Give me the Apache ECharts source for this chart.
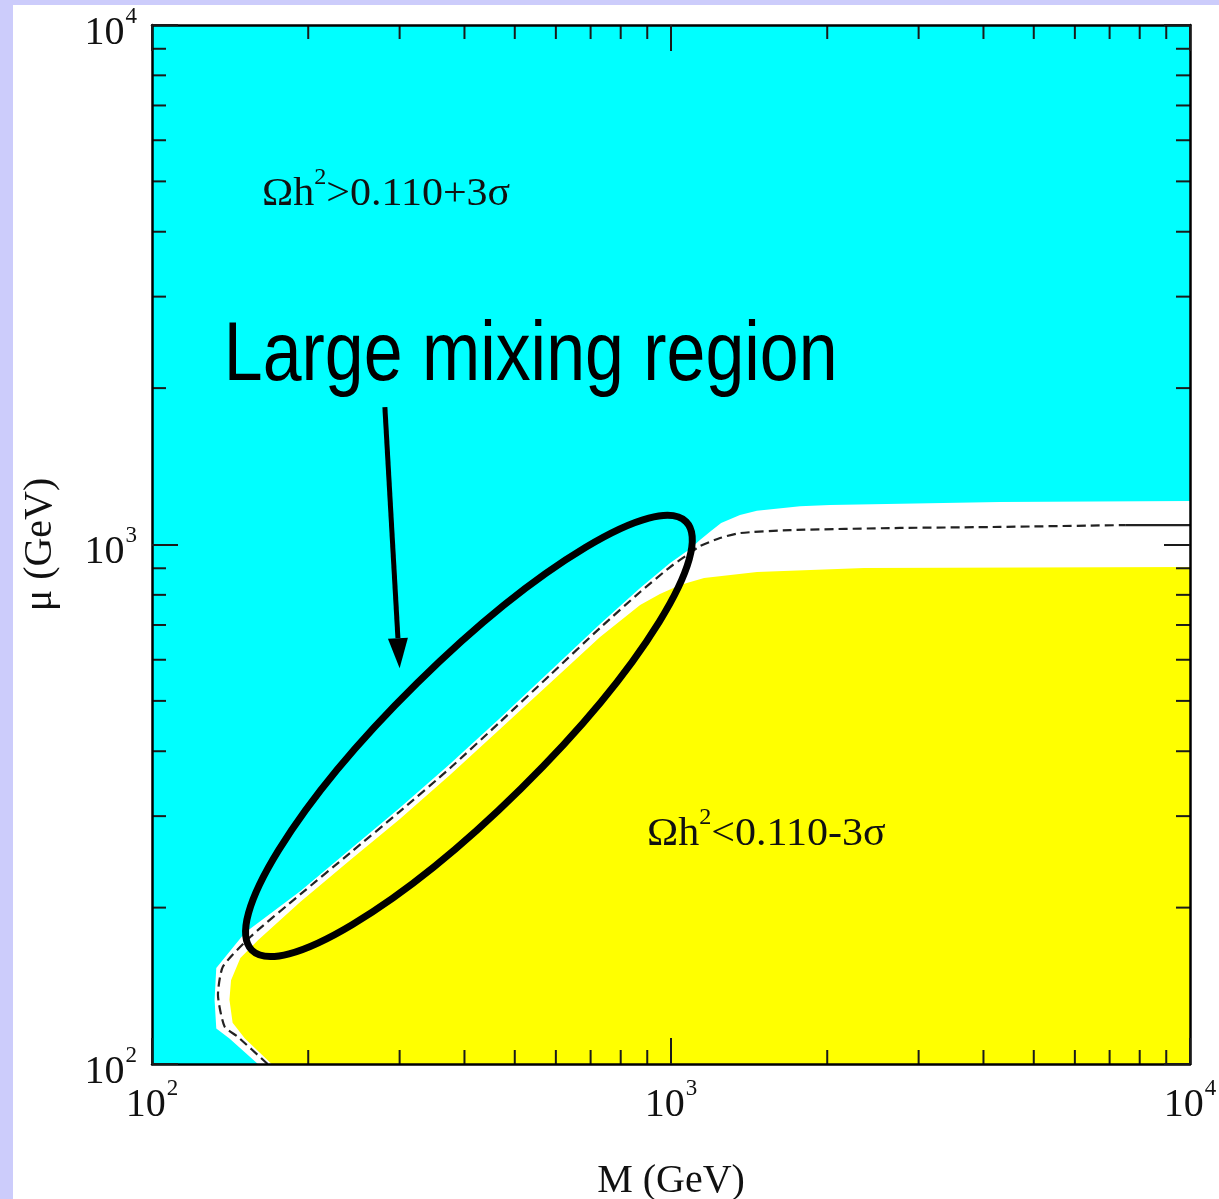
<!DOCTYPE html>
<html>
<head>
<meta charset="utf-8">
<script src="https://cdn.jsdelivr.net/npm/echarts@6/dist/echarts.min.js"></script>
<style>
html,body{margin:0;padding:0;background:#fff;}
#chart{width:1219px;height:1199px;}
</style>
</head>
<body>
<div id="chart"></div>
<script>
// ---- axis ranges & ticks ----
const M_RANGE = [100, 10000];
const MU_RANGE = [100, 10000];
const majorTickValues = [100, 1000, 10000];
const majorTickExponents = ['2', '3', '4'];
const minorTickValues = [200, 300, 400, 500, 600, 700, 800, 900, 2000, 3000, 4000, 5000, 6000, 7000, 8000, 9000];

// ---- region boundaries, [M (GeV), mu (GeV)] ----
// upper edge of the white band (below it the cyan region ends)
const cyanEdge = [[160,100],[141,112],[133,117],[132,133],[133,153],[151,179],[193,215],[241,259],[300,311],[375,378],[468,463],[585,571],[730,703],[872,825],[996,921],[1088,980],[1137,1020],[1189,1058],[1249,1100],[1358,1140],[1464,1162],[1773,1185],[2025,1191],[4304,1207],[10000,1213]];
// upper/left edge of the yellow region
const yellowEdge = [[170,100],[151,112],[143,120],[141,133],[142,145],[148,160],[160,173],[193,205],[241,247],[300,296],[375,360],[468,441],[585,541],[730,664],[872,765],[952,803],[1041,836],[1158,862],[1464,885],[2355,901],[10000,905]];
// central dashed curve
const dashedLine = [[167,100],[146,113],[138,118],[134,136],[137,154],[155,176],[193,212],[241,255],[300,306],[375,371],[468,455],[585,561],[730,691],[872,810],[996,905],[1088,963],[1137,993],[1243,1029],[1358,1052],[1696,1066],[2762,1076],[4304,1081],[7500,1090]];
const solidLine = [[7500,1090],[10000,1090]];

// ---- annotations, anchored in data coordinates ----
const ellipseCenter = [408, 428];
const arrowTail = [281, 1839];
const arrowTip = [300, 578];
const bigLabel = {text: 'Large mixing region', at: [137.5, 2290]};
const upperLabel = {pre: 'Ωh', sup: '2', post: '>0.110+3σ', at: [162.9, 4805]};
const lowerLabel = {pre: 'Ωh', sup: '2', post: '<0.110-3σ', at: [899, 282]};

const SERIF = '"Liberation Serif","Times New Roman",serif';
const TICK_COLOR = '#1a1a1a';

const chart = echarts.init(document.getElementById('chart'), null, {renderer: 'canvas'});

function labelFormatter(v) {
  const i = majorTickValues.findIndex(t => Math.abs(t - v) / t < 1e-6);
  if (i < 0) return '';
  return '{b|10}{s|' + majorTickExponents[i] + '}';
}
const labelRich = {
  b: {fontSize: 40, fontFamily: SERIF, color: '#111', padding: [8, 0, 0, 0]},
  s: {fontSize: 23, fontFamily: SERIF, color: '#111', verticalAlign: 'top', padding: [0, 0, 0, 1]}
};

function makeAxis(kind, pos, withLabels) {
  const ax = {
    type: 'log', logBase: 10,
    min: kind === 'x' ? M_RANGE[0] : MU_RANGE[0],
    max: kind === 'x' ? M_RANGE[1] : MU_RANGE[1],
    position: pos, z: 10,
    axisLine: {show: true, onZero: false, lineStyle: {color: '#000', width: 2.5}},
    axisTick: {show: true, inside: true, length: 26, lineStyle: {color: TICK_COLOR, width: 2}},
    minorTick: {show: false},
    splitLine: {show: false},
    axisLabel: {show: withLabels, formatter: labelFormatter, rich: labelRich,
      showMinLabel: true, showMaxLabel: true,
      margin: kind === 'x' ? 13 : 15,
      padding: kind === 'x' ? 0 : [8, 0, 0, 0]}
  };
  return ax;
}

const xBottom = makeAxis('x', 'bottom', true);
xBottom.name = 'M (GeV)';
xBottom.nameLocation = 'middle';
xBottom.nameGap = 97;
xBottom.nameTextStyle = {fontFamily: SERIF, fontSize: 40, color: '#111'};
const yLeft = makeAxis('y', 'left', true);
yLeft.name = 'μ (GeV)';
yLeft.nameLocation = 'middle';
yLeft.nameGap = 92;
yLeft.nameRotate = 90;
yLeft.nameTextStyle = {fontFamily: SERIF, fontSize: 40, color: '#111'};

function regionSeries(points, color, z) {
  return {
    type: 'custom', coordinateSystem: 'cartesian2d', xAxisIndex: 0, yAxisIndex: 0,
    z: z, silent: true, clip: true, data: points,
    renderItem: function (params, api) {
      if (params.dataIndex !== 0) return null;
      const pts = points.map(p => api.coord(p));
      pts.push(api.coord([M_RANGE[1], MU_RANGE[0]]));
      return {type: 'polygon', shape: {points: pts}, style: {fill: color}};
    }
  };
}

function tickSeries(axis) {
  return {
    type: 'custom', coordinateSystem: 'cartesian2d', xAxisIndex: 0, yAxisIndex: 0,
    z: 9, silent: true,
    data: minorTickValues.map(v => axis === 'x' ? [v, MU_RANGE[0]] : [M_RANGE[0], v]),
    renderItem: function (params, api) {
      const L = 14;
      const st = {stroke: TICK_COLOR, lineWidth: 2};
      if (axis === 'x') {
        const v = api.value(0);
        const b = api.coord([v, MU_RANGE[0]]);
        const t = api.coord([v, MU_RANGE[1]]);
        return {type: 'group', children: [
          {type: 'line', shape: {x1: b[0], y1: b[1], x2: b[0], y2: b[1] - L}, style: st},
          {type: 'line', shape: {x1: t[0], y1: t[1], x2: t[0], y2: t[1] + L}, style: st}
        ]};
      } else {
        const v = api.value(1);
        const l = api.coord([M_RANGE[0], v]);
        const r = api.coord([M_RANGE[1], v]);
        return {type: 'group', children: [
          {type: 'line', shape: {x1: l[0], y1: l[1], x2: l[0] + L, y2: l[1]}, style: st},
          {type: 'line', shape: {x1: r[0], y1: r[1], x2: r[0] - L, y2: r[1]}, style: st}
        ]};
      }
    }
  };
}

const option = {
  backgroundColor: '#ffffff',
  animation: false,
  grid: {left: 152, right: 29, top: 25, bottom: 135, show: true, backgroundColor: '#00ffff', borderWidth: 0,
    containLabel: false, outerBoundsMode: 'none'},
  xAxis: [xBottom, makeAxis('x', 'top', false)],
  yAxis: [yLeft, makeAxis('y', 'right', false)],
  graphic: [
    {type: 'rect', left: 0, top: 0, z: 100, shape: {width: 1219, height: 5}, style: {fill: '#ccccfb'}},
    {type: 'rect', left: 0, top: 0, z: 100, shape: {width: 13, height: 1199}, style: {fill: '#ccccfb'}}
  ],
  series: [
    regionSeries(cyanEdge, '#ffffff', 1),
    regionSeries(yellowEdge, '#ffff00', 2),
    {
      type: 'line', xAxisIndex: 0, yAxisIndex: 0, z: 3, data: dashedLine, showSymbol: false, smooth: 0.2,
      silent: true, lineStyle: {color: '#222', width: 2.2, type: [9, 5]}
    },
    {
      type: 'line', xAxisIndex: 0, yAxisIndex: 0, z: 3, data: solidLine, showSymbol: false,
      silent: true, lineStyle: {color: '#222', width: 2.2}
    },
    tickSeries('x'),
    tickSeries('y'),
    {
      // ellipse marking the large mixing region
      type: 'custom', coordinateSystem: 'cartesian2d', xAxisIndex: 0, yAxisIndex: 0, z: 12, silent: true,
      data: [ellipseCenter],
      renderItem: function (params, api) {
        const c = api.coord([api.value(0), api.value(1)]);
        return {type: 'ellipse', x: c[0], y: c[1], rotation: 44.6 * Math.PI / 180,
          shape: {cx: 0, cy: 0, rx: 305, ry: 74},
          style: {fill: 'none', stroke: '#000', lineWidth: 7}};
      }
    },
    {
      // arrow
      type: 'custom', coordinateSystem: 'cartesian2d', xAxisIndex: 0, yAxisIndex: 0, z: 12, silent: true,
      data: [arrowTail, arrowTip],
      renderItem: function (params, api) {
        if (params.dataIndex !== 0) return null;
        const a = api.coord(arrowTail), b = api.coord(arrowTip);
        const dx = b[0] - a[0], dy = b[1] - a[1];
        const len = Math.sqrt(dx * dx + dy * dy);
        const ux = dx / len, uy = dy / len;
        const HL = 30, HW = 10;
        const bc = [b[0] - HL * ux, b[1] - HL * uy];
        const px = -uy, py = ux;
        return {type: 'group', children: [
          {type: 'line', shape: {x1: a[0], y1: a[1], x2: bc[0], y2: bc[1]}, style: {stroke: '#000', lineWidth: 5}},
          {type: 'polygon', shape: {points: [b, [bc[0] + HW * px, bc[1] + HW * py], [bc[0] - HW * px, bc[1] - HW * py]]}, style: {fill: '#000'}}
        ]};
      }
    },
    {
      // text annotations
      type: 'custom', coordinateSystem: 'cartesian2d', xAxisIndex: 0, yAxisIndex: 0, z: 13, silent: true,
      data: [bigLabel.at, upperLabel.at, lowerLabel.at],
      renderItem: function (params, api) {
        const c = api.coord([api.value(0), api.value(1)]);
        if (params.dataIndex === 0) {
          return {type: 'text', x: c[0], y: c[1], scaleX: 0.842,
            style: {text: bigLabel.text, font: '83px "Liberation Sans", Arial, sans-serif', fill: '#000', align: 'left', verticalAlign: 'middle'}};
        }
        const lab = params.dataIndex === 1 ? upperLabel : lowerLabel;
        return {type: 'text', x: c[0], y: c[1], scaleX: 1.05,
          style: {text: '{a|' + lab.pre + '}{s|' + lab.sup + '}{a|' + lab.post + '}',
            rich: {a: {fontSize: 40, fontFamily: SERIF, fill: '#111', padding: [8, 0, 0, 0]},
                   s: {fontSize: 23, fontFamily: SERIF, fill: '#111', verticalAlign: 'top'}},
            align: 'left', verticalAlign: 'middle'}};
      }
    }
  ]
};
chart.setOption(option);
</script>
</body>
</html>
